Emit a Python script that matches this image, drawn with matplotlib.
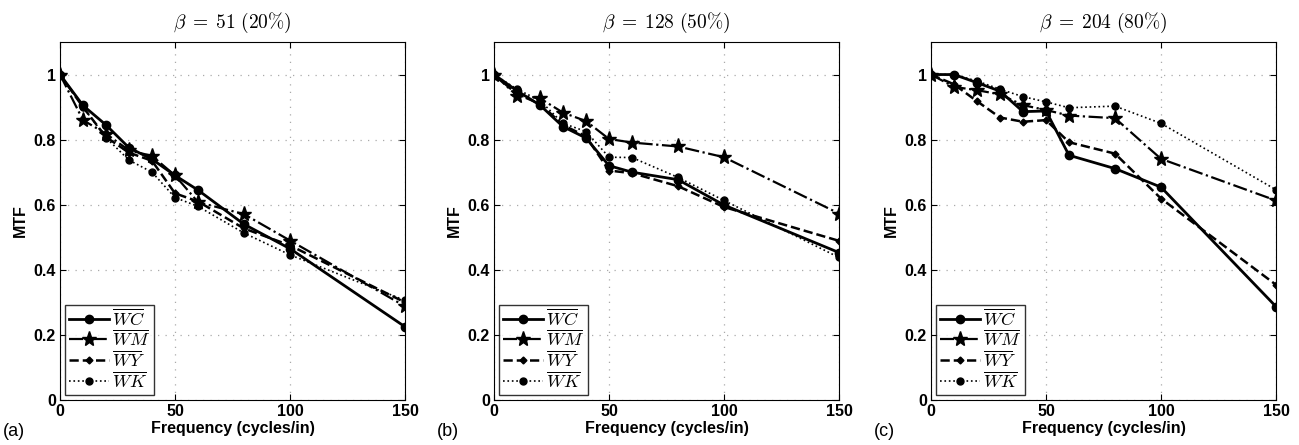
import matplotlib
matplotlib.use("Agg")
import matplotlib.pyplot as plt

freq = [0, 10, 20, 30, 40, 50, 60, 80, 100, 150]

titles = [r"$\beta\;=\;51\ (20\%)$", r"$\beta\;=\;128\ (50\%)$", r"$\beta\;=\;204\ (80\%)$"]
panel_labels = ["(a)", "(b)", "(c)"]
series_names = [r"$\overline{WC}$", r"$\overline{WM}$", r"$\overline{WY}$", r"$\overline{WK}$"]

# panel (a)
a_WC = [1.0, 0.905, 0.845, 0.775, 0.74, 0.69, 0.645, 0.54, 0.465, 0.225]
a_WM = [1.0, 0.86, 0.818, 0.767, 0.75, 0.69, 0.608, 0.571, 0.49, 0.288]
a_WY = [1.0, 0.9, 0.808, 0.76, 0.735, 0.635, 0.61, 0.527, 0.475, 0.30]
a_WK = [1.0, 0.9, 0.806, 0.737, 0.70, 0.622, 0.595, 0.513, 0.446, 0.306]
# panel (b)
b_WC = [1.0, 0.95, 0.906, 0.84, 0.805, 0.72, 0.70, 0.677, 0.599, 0.453]
b_WM = [1.0, 0.935, 0.927, 0.883, 0.857, 0.802, 0.791, 0.779, 0.746, 0.573]
b_WY = [1.0, 0.94, 0.91, 0.845, 0.81, 0.705, 0.697, 0.657, 0.593, 0.489]
b_WK = [1.0, 0.955, 0.92, 0.85, 0.825, 0.746, 0.745, 0.684, 0.613, 0.438]
# panel (c)
c_WC = [1.0, 1.0, 0.975, 0.949, 0.886, 0.888, 0.752, 0.711, 0.654, 0.287]
c_WM = [1.0, 0.962, 0.952, 0.939, 0.906, 0.891, 0.874, 0.866, 0.741, 0.613]
c_WY = [1.0, 0.97, 0.918, 0.868, 0.855, 0.86, 0.792, 0.757, 0.619, 0.354]
c_WK = [1.0, 1.0, 0.98, 0.955, 0.932, 0.916, 0.898, 0.903, 0.85, 0.646]

panels = [[a_WC, a_WM, a_WY, a_WK], [b_WC, b_WM, b_WY, b_WK], [c_WC, c_WM, c_WY, c_WK]]

styles = [
    dict(ls='-', lw=2.0, marker='o', ms=6),
    dict(ls='-.', lw=1.6, marker='*', ms=11),
    dict(ls='--', lw=1.8, marker='D', ms=3.5),
    dict(ls=':', lw=1.2, marker='o', ms=5),
]

plt.rcParams['mathtext.fontset'] = 'cm'
plt.rcParams['font.family'] = ['Liberation Sans', 'DejaVu Sans']

fig = plt.figure(figsize=(12.99, 4.45), dpi=100)
W, H = 1299, 445
lefts = [60, 494, 931]
ax_w = 345
ax_bottom = 400
ax_top = 42

for i, (left, data) in enumerate(zip(lefts, panels)):
    ax = fig.add_axes([left / W, 1 - ax_bottom / H, ax_w / W, (ax_bottom - ax_top) / H])
    for ys, st, name in zip(data, styles, series_names):
        ax.plot(freq, ys, color='black', label=name, **st)
    ax.set_xlim(0, 150)
    ax.set_ylim(0, 1.1)
    ax.set_xticks([0, 50, 100, 150])
    ax.set_yticks([0, 0.2, 0.4, 0.6, 0.8, 1.0])
    ax.set_yticklabels(['0', '0.2', '0.4', '0.6', '0.8', '1'])
    ax.grid(True, color='#aaaaaa', ls=(0, (1, 5)), lw=0.9)
    ax.tick_params(direction='in', top=True, right=True, length=4, labelsize=11.5, pad=3)
    for lab in ax.get_xticklabels() + ax.get_yticklabels():
        lab.set_fontweight('bold')
    for sp in ax.spines.values():
        sp.set_linewidth(0.8)
    ax.set_xlabel('Frequency (cycles/in)', fontsize=11.5, fontweight='bold', labelpad=1)
    ax.set_ylabel('MTF', fontsize=11.5, fontweight='bold')
    ax.set_title(titles[i], fontsize=14, pad=10)
    leg = ax.legend(loc='lower left', fontsize=13, frameon=True, fancybox=False,
                    edgecolor='black', handlelength=2.2, borderpad=0.2,
                    labelspacing=0.05, handletextpad=0.2, borderaxespad=0.3)
    leg.get_frame().set_linewidth(1.0)
    fig.text((left - 57) / W, 1 - 431 / H, panel_labels[i], fontsize=13, va='center', ha='left')

fig.savefig('out.png', dpi=100)
